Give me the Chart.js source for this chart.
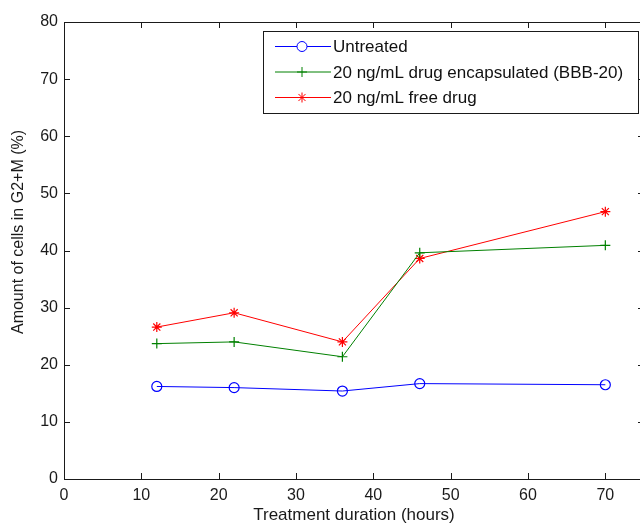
<!DOCTYPE html>
<html>
<head>
<meta charset="utf-8">
<script src="https://cdn.jsdelivr.net/npm/chart.js@4.4.1/dist/chart.umd.min.js"></script>
<style>
  html, body { margin: 0; padding: 0; background: #fff; overflow: hidden; }
  #wrap { width: 660px; height: 528px; }
</style>
</head>
<body>
<div id="wrap"><canvas id="cycleChart"></canvas></div>
<script>
var hours = [12, 22, 36, 46, 70];
var untreated = [16.2, 16.0, 15.4, 16.7, 16.5];
var encapsulated = [23.7, 24.0, 21.4, 39.6, 40.9];
var freeDrug = [26.6, 29.1, 24.0, 38.6, 46.8];
var seriesLabels = [
    'Untreated',
    '20 ng/mL drug encapsulated (BBB-20)',
    '20 ng/mL free drug'
];
var yTitle = 'Amount of cells in G2+M (%)';

function toPoints(ys) {
    return hours.map(function (h, i) { return { x: h, y: ys[i] }; });
}

var font = { family: 'Arial, "Liberation Sans", sans-serif', size: 16 };
var inkColor = '#1a1a1a';

// MATLAB style box with inward ticks on all four sides
var framePlugin = {
    id: 'frame',
    afterDraw: function (chart) {
        var ctx = chart.ctx, a = chart.chartArea;
        var xs = chart.scales.x, ys = chart.scales.y;
        var len = 6;
        ctx.save();
        ctx.strokeStyle = inkColor;
        ctx.lineWidth = 1;
        ctx.strokeRect(a.left + 0.5, a.top + 0.5, a.right - a.left, a.bottom - a.top);
        ctx.beginPath();
        xs.ticks.forEach(function (t) {
            var px = Math.round(xs.getPixelForValue(t.value)) + 0.5;
            ctx.moveTo(px, a.bottom); ctx.lineTo(px, a.bottom - len);
            ctx.moveTo(px, a.top); ctx.lineTo(px, a.top + len);
        });
        ys.ticks.forEach(function (t) {
            var py = Math.round(ys.getPixelForValue(t.value)) + 0.5;
            ctx.moveTo(a.left, py); ctx.lineTo(a.left + len, py);
            ctx.moveTo(a.right, py); ctx.lineTo(a.right - len, py);
        });
        ctx.stroke();

        // y axis title, sits a bit above the plot centre like the original
        ctx.translate(19, 232);
        ctx.rotate(-Math.PI / 2);
        ctx.fillStyle = inkColor;
        ctx.font = '16px ' + font.family;
        ctx.textAlign = 'center';
        ctx.textBaseline = 'middle';
        ctx.fillText(yTitle, 0, 0);
        ctx.restore();
    }
};

// boxed legend in the upper right of the plot
var legendPlugin = {
    id: 'boxLegend',
    afterDraw: function (chart) {
        var ctx = chart.ctx;
        var box = { x: 263.5, y: 31.5, w: 375, h: 82 };
        ctx.save();
        ctx.fillStyle = '#fff';
        ctx.fillRect(box.x, box.y, box.w, box.h);
        ctx.strokeStyle = inkColor;
        ctx.lineWidth = 1;
        ctx.strokeRect(box.x, box.y, box.w, box.h);
        var rows = [46.5, 72, 97.5];
        ctx.font = '17px ' + font.family;
        ctx.textBaseline = 'middle';
        chart.data.datasets.forEach(function (ds, i) {
            var y = rows[i];
            ctx.strokeStyle = ds.borderColor;
            ctx.lineWidth = 1;
            ctx.beginPath();
            ctx.moveTo(275, y); ctx.lineTo(331, y);
            ctx.stroke();
            Chart.helpers.drawPoint(ctx, {
                pointStyle: ds.pointStyle,
                radius: ds.pointRadius,
                rotation: 0,
                borderWidth: 1
            }, 302, y);
            ctx.fillStyle = '#111';
            ctx.fillText(ds.label, 333, y + 1);
        });
        ctx.restore();
    }
};

function dataset(label, ys, color, style, r) {
    return {
        label: label,
        data: toPoints(ys),
        borderColor: color,
        backgroundColor: color,
        borderWidth: 1,
        pointStyle: style,
        pointRadius: r,
        pointBorderWidth: 1.2,
        pointBorderColor: color,
        pointBackgroundColor: style === 'circle' ? 'rgba(0,0,0,0)' : color,
        tension: 0
    };
}

var config = {
    type: 'line',
    data: {
        datasets: [
            dataset(seriesLabels[0], untreated, '#0000ff', 'circle', 5),
            dataset(seriesLabels[1], encapsulated, '#008000', 'cross', 5),
            dataset(seriesLabels[2], freeDrug, '#ff0000', 'star', 5)
        ]
    },
    options: {
        responsive: true,
        maintainAspectRatio: false,
        animation: false,
        layout: { padding: { left: 0, right: 16, top: 22, bottom: 0 } },
        plugins: {
            legend: { display: false },
            tooltip: { enabled: false }
        },
        scales: {
            x: {
                type: 'linear',
                min: 0,
                max: 75,
                afterBuildTicks: function (s) {
                    s.ticks = s.ticks.filter(function (t) { return t.value % 10 === 0; });
                },
                afterFit: function (s) { s.height = 49; },
                grid: { display: false, drawTicks: false },
                border: { display: false },
                ticks: { stepSize: 10, padding: 7, color: inkColor, font: font, maxRotation: 0 },
                title: {
                    display: true,
                    text: 'Treatment duration (hours)',
                    color: inkColor,
                    font: { family: font.family, size: 17 },
                    padding: { top: 0, bottom: 2 }
                }
            },
            y: {
                min: 0,
                max: 80,
                afterFit: function (s) { s.width = 64; },
                grid: { display: false, drawTicks: false },
                border: { display: false },
                ticks: { stepSize: 10, padding: 6, color: inkColor, font: font }
            }
        }
    },
    plugins: [framePlugin, legendPlugin]
};

var ctx = document.getElementById('cycleChart');
window.cycleChart = new Chart(ctx, config);
</script>
</body>
</html>
